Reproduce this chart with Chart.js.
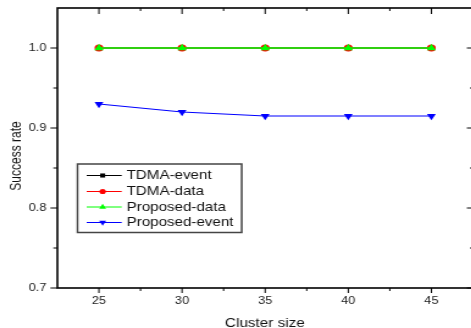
<!DOCTYPE html>
<html>
<head>
<meta charset="utf-8">
<title>Success rate vs Cluster size</title>
<script src="https://cdn.jsdelivr.net/npm/chart.js@4.4.1/dist/chart.umd.min.js"></script>
<style>
    html, body { margin: 0; padding: 0; background: #fff; overflow: hidden; }
    #chart { display: block; }
</style>
</head>
<body>
<!-- the source picture is stretched sideways, so the canvas is too -->
<canvas id="chart" width="390" height="328" style="width:476px;height:328px"></canvas>
<script>
// data
const clusterSizes = [25, 30, 35, 40, 45];
const tdmaEvent = [1.0, 1.0, 1.0, 1.0, 1.0];
const tdmaData = [1.0, 1.0, 1.0, 1.0, 1.0];
const proposedData = [1.0, 1.0, 1.0, 1.0, 1.0];
const proposedEvent = [0.93, 0.92, 0.915, 0.915, 0.915];

// axis ticks
const xTicks = [25, 30, 35, 40, 45];
const xMinorTicks = [27.5, 32.5, 37.5, 42.5];
const yTicks = [0.7, 0.8, 0.9, 1.0];
const yMinorTicks = [0.75, 0.85, 0.95];

const FONT = '"Liberation Sans", Arial, sans-serif';

function toPoints(values) {
    return clusterSizes.map((x, i) => ({ x: x, y: values[i] }));
}

// frame and tick marks
const framePlugin = {
    id: 'frame',
    beforeDatasetsDraw(chart) {
        const { ctx, chartArea: a, scales } = chart;
        const xs = scales.x;
        const ys = scales.y;
        ctx.save();
        ctx.strokeStyle = '#000';
        ctx.lineWidth = 1.6;
        ctx.strokeRect(a.left, a.top, a.right - a.left, a.bottom - a.top);

        ctx.lineWidth = 1;
        ctx.beginPath();
        xTicks.forEach(v => {
            const px = xs.getPixelForValue(v);
            ctx.moveTo(px, a.bottom); ctx.lineTo(px, a.bottom + 5);
            ctx.moveTo(px, a.top); ctx.lineTo(px, a.top + 6);
        });
        xMinorTicks.forEach(v => {
            const px = xs.getPixelForValue(v);
            ctx.moveTo(px, a.bottom); ctx.lineTo(px, a.bottom + 3);
            ctx.moveTo(px, a.top); ctx.lineTo(px, a.top + 3);
        });
        yTicks.forEach(v => {
            const py = ys.getPixelForValue(v);
            ctx.moveTo(a.left - 5.7, py); ctx.lineTo(a.left, py);
            ctx.moveTo(a.right - 5, py); ctx.lineTo(a.right, py);
        });
        yMinorTicks.forEach(v => {
            const py = ys.getPixelForValue(v);
            ctx.moveTo(a.left - 3.3, py); ctx.lineTo(a.left, py);
            ctx.moveTo(a.right - 2.5, py); ctx.lineTo(a.right, py);
        });
        ctx.stroke();
        ctx.restore();
    },
    afterDraw(chart) {
        const { ctx } = chart;
        ctx.save();

        // axis titles
        ctx.fillStyle = '#111';
        ctx.textAlign = 'center';
        ctx.textBaseline = 'alphabetic';
        ctx.font = `12.5px ${FONT}`;
        ctx.fillText('Cluster size', 217, 326.5);
        ctx.save();
        ctx.translate(17, 156);
        ctx.rotate(-Math.PI / 2);
        ctx.font = `12px ${FONT}`;
        ctx.fillText('Success rate', 0, 0);
        ctx.restore();

        // legend box
        ctx.strokeStyle = '#444';
        ctx.lineWidth = 1.5;
        ctx.strokeRect(63.5, 164, 134.5, 68.5);

        const rowY = [175.5, 191.5, 207, 222.5];
        const legendRadius = { rect: 2.9, circle: 2.6, triangle: 3.3 };
        ctx.font = `12.4px ${FONT}`;
        ctx.textAlign = 'left';
        ctx.textBaseline = 'middle';
        chart.data.datasets.forEach((ds, i) => {
            const y = rowY[i];
            ctx.strokeStyle = ds.borderColor;
            ctx.fillStyle = ds.backgroundColor;
            ctx.lineWidth = 1;
            ctx.beginPath();
            ctx.moveTo(71, y);
            ctx.lineTo(99.7, y);
            ctx.stroke();
            Chart.helpers.drawPoint(ctx, {
                pointStyle: ds.pointStyle,
                rotation: ds.pointRotation || 0,
                radius: legendRadius[ds.pointStyle],
                borderWidth: 0
            }, 84.1, y);
            ctx.fillStyle = '#111';
            ctx.fillText(ds.label, 103.8, y + 0.5);
        });
        ctx.restore();
    }
};

const chart = new Chart(document.getElementById('chart'), {
    type: 'line',
    data: {
        datasets: [
            {
                label: 'TDMA-event',
                data: toPoints(tdmaEvent),
                borderColor: '#000000',
                backgroundColor: '#000000',
                borderWidth: 1,
                pointStyle: 'rect',
                pointRadius: 3,
                pointBorderWidth: 0,
                order: 2
            },
            {
                label: 'TDMA-data',
                data: toPoints(tdmaData),
                borderColor: '#ff0000',
                backgroundColor: '#ff0000',
                borderWidth: 1,
                pointStyle: 'circle',
                pointRadius: 3.6,
                pointBorderWidth: 0,
                order: 1
            },
            {
                label: 'Proposed-data',
                data: toPoints(proposedData),
                borderColor: '#00ff00',
                backgroundColor: '#00ff00',
                borderWidth: 1.6,
                pointStyle: 'triangle',
                pointRadius: 4.3,
                pointBorderWidth: 0,
                order: 0
            },
            {
                label: 'Proposed-event',
                data: toPoints(proposedEvent),
                borderColor: '#0000ff',
                backgroundColor: '#0000ff',
                borderWidth: 1.1,
                pointStyle: 'triangle',
                pointRotation: 180,
                pointRadius: 4.2,
                pointBorderWidth: 0,
                order: 3
            }
        ]
    },
    options: {
        responsive: false,
        devicePixelRatio: 1,
        animation: false,
        // frame's right edge sits just past the window, as in the source
        layout: { autoPadding: false, padding: { left: 0, top: 8, right: 2.5, bottom: 0 } },
        plugins: {
            legend: { display: false },
            tooltip: { enabled: false }
        },
        elements: { line: { tension: 0 } },
        scales: {
            x: {
                type: 'linear',
                min: 22.5,
                max: 47.5,
                afterBuildTicks: (s) => { s.ticks = xTicks.map(v => ({ value: v })); },
                afterFit: (s) => {
                    s.height = 40;
                    s.paddingLeft = 0;
                    s.paddingRight = 0;
                },
                grid: { display: false, drawTicks: false },
                border: { display: false },
                ticks: {
                    padding: 7,
                    color: '#222',
                    autoSkip: false,
                    maxRotation: 0,
                    font: { family: FONT, size: 10.5 },
                    callback: (v) => String(v)
                }
            },
            y: {
                min: 0.7,
                max: 1.05,
                afterBuildTicks: (s) => { s.ticks = yTicks.map(v => ({ value: v })); },
                afterFit: (s) => {
                    s.width = 47;
                    s.paddingTop = 0;
                    s.paddingBottom = 0;
                },
                grid: { display: false, drawTicks: false },
                border: { display: false },
                ticks: {
                    padding: 9,
                    color: '#222',
                    font: { family: FONT, size: 10.5 },
                    callback: (v) => Number(v).toFixed(1)
                }
            }
        }
    },
    plugins: [framePlugin]
});
</script>
</body>
</html>
